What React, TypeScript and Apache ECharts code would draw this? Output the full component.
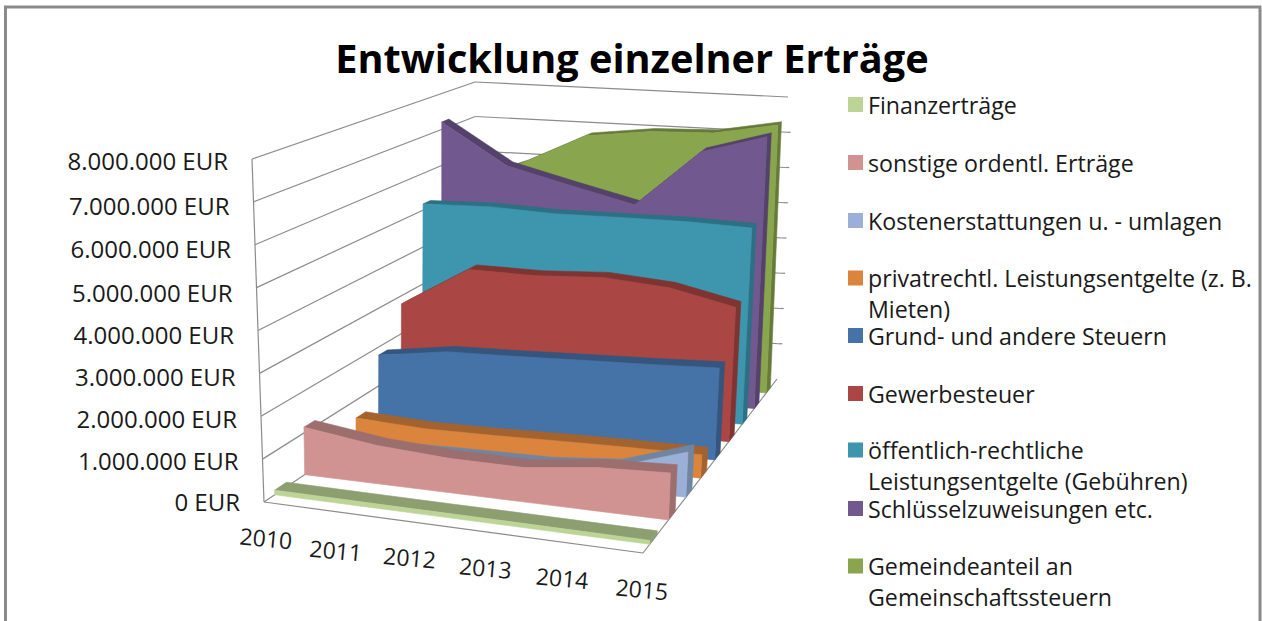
import React, { useEffect, useRef } from "react";
import * as echarts from "echarts";

const years = ["2010", "2011", "2012", "2013", "2014", "2015"];
const yTicks = [0, 1000000, 2000000, 3000000, 4000000, 5000000, 6000000, 7000000, 8000000];

const finanzertraege = [110000, 105000, 100000, 100000, 95000, 90000];
const sonstige = [1150000, 920000, 820000, 820000, 1030000, 1110000];
const kostenerstattungen = [300000, 350000, 380000, 400000, 550000, 1100000];
const privatrechtlich = [560000, 480000, 500000, 540000, 570000, 580000];
const grundsteuern = [1820000, 2080000, 2130000, 2200000, 2260000, 2340000];
const gewerbesteuer = [2820000, 3890000, 3880000, 3980000, 3860000, 3500000];
const oeffentlich = [5220000, 5280000, 5220000, 5250000, 5270000, 5230000];
const schluessel = [7250000, 6160000, 5720000, 5310000, 6880000, 7400000];
const gemeindeanteil = [5300000, 5980000, 6850000, 7070000, 7130000, 7450000];

const legendNames = [
  "Finanzerträge",
  "sonstige ordentl. Erträge",
  "Kostenerstattungen u. - umlagen",
  "privatrechtl. Leistungsentgelte (z. B.\nMieten)",
  "Grund- und andere Steuern",
  "Gewerbesteuer",
  "öffentlich-rechtliche\nLeistungsentgelte (Gebühren)",
  "Schlüsselzuweisungen etc.",
  "Gemeindeanteil an\nGemeinschaftssteuern",
];
const allValues = [
  finanzertraege, sonstige, kostenerstattungen, privatrechtlich, grundsteuern,
  gewerbesteuer, oeffentlich, schluessel, gemeindeanteil,
];
const frontColors = ["#BDD497", "#D19392", "#9BB0D8", "#DB843D", "#4572A7", "#AA4643", "#3D96AE", "#71588F", "#89A54E"];
const topColors = ["#8D9F70", "#9C6E6E", "#7085A2", "#A4632E", "#34557D", "#803432", "#2E7083", "#54426B", "#667B3A"];

// layout of the 3D box on the page
const depthFront = [0.05, 0.19, 0.32, 0.43, 0.535, 0.64, 0.74, 0.83, 0.92];
const depthThick = [0.055, 0.05, 0.045, 0.045, 0.04, 0.04, 0.035, 0.035, 0.03];
const corners = {
  flb: [264, 502], frb: [643, 553], blb: [478, 358], brb: [777, 379],
  flt: [252, 159], frt: [654, 201], blt: [475, 82], brt: [788, 97],
};
const yearDx = [2, -4, -6, -6, -5, -1];
const yearDy = [36, 38, 35, 35, 35, 36];
const yLabelDy = [-0.5, 1.5, 2.5, 3.5, 3.5, 4.5, 3.5, 3.5, 1.5];
const legendY = [104, 162, 220, 278, 335, 393, 450, 508, 566];
const GRID = { left: 100, top: 100, width: 600, height: 400 };
const FONT = "'Open Sans'";
const LEGEND_SIZE = 23.2;
const AXIS_SIZE = 24;
const YEAR_SIZE = 23;
const LINE = 31;
const SINGLE_LINE = 22;

const mix = (a: number[], b: number[], t: number) => [a[0] + (b[0] - a[0]) * t, a[1] + (b[1] - a[1]) * t];
function project(u: number, v: number, w: number) {
  const c = corners;
  const base = mix(mix(c.flb, c.frb, u), mix(c.blb, c.brb, u), w);
  const top = mix(mix(c.flt, c.frt, u), mix(c.blt, c.brt, u), w);
  const wx = w + 0.15 * w * (1 - w);
  const topX = mix(mix(c.flt, c.frt, u), mix(c.blt, c.brt, u), wx)[0];
  return mix(base, [topX, top[1]], v);
}
// through the hidden axes: data value -> axis pixel -> box fractions
function unit(api: any, yearIndex: number, value: number) {
  const p = api.coord([yearIndex, value]);
  return [(p[0] - GRID.left) / GRID.width, (GRID.top + GRID.height - p[1]) / GRID.height];
}
const fmtEur = (n: number) => String(n).replace(/\B(?=(\d{3})+(?!\d))/g, ".") + " EUR";

function frameItem(_p: any, api: any) {
  const children: any[] = [];
  const line = (a: number[], b: number[]) =>
    children.push({
      type: "line",
      shape: { x1: a[0], y1: a[1], x2: b[0], y2: b[1] },
      style: { stroke: "#8C8C8C", lineWidth: 1.2 },
      silent: true,
    });
  yTicks.forEach((t, k) => {
    const v = unit(api, 0, t)[1];
    line(project(0, v, 0), project(0, v, 1));
    if (t > 0) line(project(0, v, 1), project(1, v, 1));
    if (t > 0 && t < 8000000) {
      const r = project(1, v, 1);
      line(r, [r[0] + 4, r[1]]);
    }
    const l = project(0, v, 0);
    children.push({
      type: "text",
      x: l[0] - 24,
      y: l[1] + yLabelDy[k],
      style: { text: fmtEur(t), font: `${AXIS_SIZE}px ${FONT}`, fill: "#1a1a1a", align: "right", verticalAlign: "middle" },
    });
  });
  line(project(0, 0, 0), project(0, 1, 0));
  line(project(0, 0, 0), project(1, 0, 0));
  line(project(1, 0, 0), project(1, 0, 1));
  years.forEach((y, i) => {
    const u = unit(api, i, 0)[0];
    const b = project(u, 0, 0);
    children.push({
      type: "text",
      x: b[0] + yearDx[i],
      y: b[1] + yearDy[i],
      rotation: -0.09,
      style: { text: y, font: `${YEAR_SIZE}px ${FONT}`, fill: "#1a1a1a", align: "center", verticalAlign: "middle" },
    });
  });
  return { type: "group", children };
}

function areaItem(idx: number) {
  return (params: any, api: any) => {
    if (params.dataIndex !== 0) return null;
    const vals = allValues[idx];
    const w0 = depthFront[idx];
    const w1 = w0 + depthThick[idx];
    const us = vals.map((val, i) => unit(api, i, val));
    const front = us.map((q) => project(q[0], q[1], w0));
    const back = us.map((q) => project(q[0], q[1], w1));
    const floor = us.map((q) => project(q[0], 0, w0));
    const last = us[us.length - 1];
    const poly = (pts: number[][], fill: string) => ({
      type: "polygon",
      shape: { points: pts },
      style: { fill, stroke: fill, lineWidth: 0.6, lineJoin: "round" },
    });
    return {
      type: "group",
      children: [
        poly([...front, ...[...back].reverse()], topColors[idx]),
        poly(
          [project(1, 0, w0), project(1, 0, w1), project(1, last[1], w1), project(1, last[1], w0)],
          topColors[idx]
        ),
        poly([...front, ...[...floor].reverse()], frontColors[idx]),
      ],
    };
  };
}

export default function App() {
  const ref = useRef<HTMLDivElement>(null);
  useEffect(() => {
    const chart = echarts.init(ref.current!, null, { renderer: "svg" });
    const order = legendNames.map((_, i) => legendNames.length - 1 - i);
    chart.setOption({
      animation: false,
      backgroundColor: "#ffffff",
      title: {
        text: "Entwicklung einzelner Erträge",
        left: 627,
        top: 33,
        textAlign: "center",
        textStyle: { fontFamily: FONT, fontSize: 39.7, fontWeight: "bold", color: "#000000" },
      },
      grid: { ...GRID, containLabel: false },
      xAxis: { type: "category", data: years, boundaryGap: false, show: false },
      yAxis: { type: "value", min: 0, max: 8000000, interval: 1000000, show: false },
      legend: legendNames.map((n, i) => {
        const wrapped = n.includes("\n");
        return {
          data: [n],
          orient: "vertical",
          left: 848,
          top: wrapped ? legendY[i] - (LINE * 3) / 2 : legendY[i] - SINGLE_LINE / 2,
          padding: 0,
          itemWidth: 15,
          itemHeight: 15,
          itemGap: 0,
          selectedMode: false,
          icon: "rect",
          formatter: (s: string) => (s.includes("\n") ? " \n" + s : s),
          textStyle: {
            fontFamily: FONT,
            fontSize: LEGEND_SIZE,
            lineHeight: wrapped ? LINE : SINGLE_LINE,
            color: "#1a1a1a",
          },
        };
      }),
      graphic: [
        {
          type: "rect",
          shape: { x: 5.5, y: 7, width: 1254.5, height: 640 },
          style: { fill: "none", stroke: "#8A8A8A", lineWidth: 3 },
          silent: true,
        },
      ],
      series: [
        {
          type: "custom",
          name: "frame",
          coordinateSystem: "cartesian2d",
          data: [[0, 0]],
          renderItem: frameItem,
          silent: true,
        },
        ...order.map((idx) => ({
          type: "custom",
          name: legendNames[idx],
          coordinateSystem: "cartesian2d",
          data: allValues[idx].map((v, i) => [i, v]),
          itemStyle: { color: frontColors[idx] },
          renderItem: areaItem(idx),
          silent: true,
        })),
      ],
    });
    return () => chart.dispose();
  }, []);
  return <div ref={ref} style={{ position: "fixed", left: 0, top: 0, width: 1262, height: 621 }} />;
}
